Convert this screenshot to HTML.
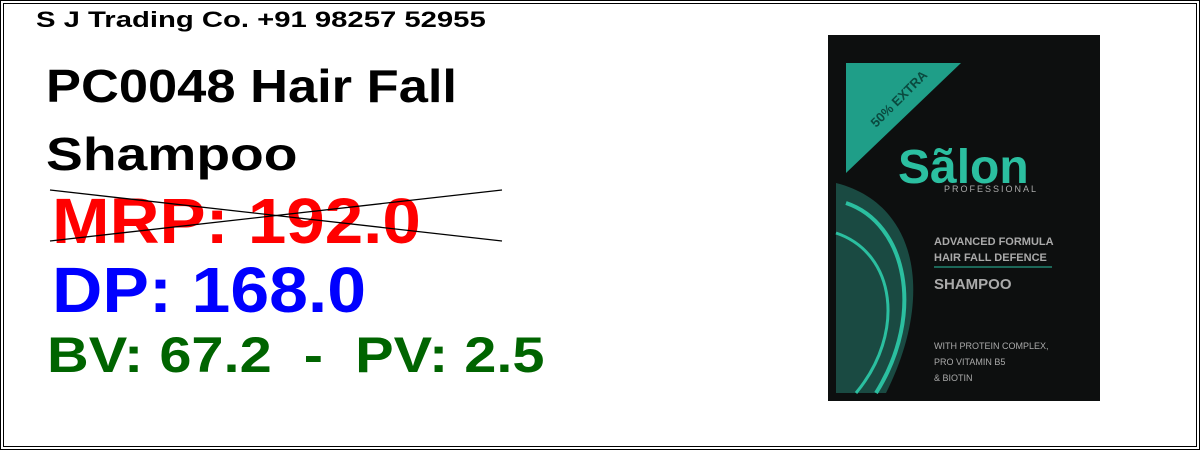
<!DOCTYPE html>
<html><head><meta charset="utf-8"><style>
body{margin:0;width:1200px;height:450px;background:#fff;position:relative;overflow:hidden;font-family:"Liberation Sans",sans-serif}
.t{position:absolute;white-space:nowrap;font-weight:bold;line-height:1;transform-origin:0 0}
</style></head><body>
<div style="position:absolute;left:0;top:0;width:1198px;height:448px;border:1px solid #000"></div>
<div style="position:absolute;left:3px;top:3px;width:1192px;height:442px;border:1px solid #000"></div>
<div class="t" style="left:36px;top:9px;font-size:22px;transform:scaleX(1.33)">S J Trading Co. +91 98257 52955</div>
<div class="t" style="left:46px;top:63px;font-size:46px;transform:scaleX(1.14)">PC0048 Hair Fall</div>
<div class="t" style="left:46px;top:131px;font-size:46px;transform:scaleX(1.2)">Shampoo</div>
<div class="t" style="left:52px;top:189px;font-size:64px;color:#f00;transform:scaleX(1.08)">MRP: 192.0</div>
<svg style="position:absolute;left:0;top:0" width="1200" height="450"><line x1="50" y1="190" x2="502" y2="241" stroke="#000" stroke-width="1.3"/><line x1="50" y1="241" x2="502" y2="190" stroke="#000" stroke-width="1.3"/></svg>
<div class="t" style="left:52px;top:258px;font-size:64px;color:#00f;transform:scaleX(1.09)">DP: 168.0</div>
<div class="t" style="left:47px;top:330px;font-size:50px;color:#006400;transform:scaleX(1.155)">BV: 67.2&nbsp; -&nbsp; PV: 2.5</div>
<svg style="position:absolute;left:826px;top:33px" width="276" height="368">
<rect x="2" y="2" width="272" height="366" fill="#0d0f0f"/>
<polygon points="20,30 135,30 20,140" fill="#1f9e88"/>
<path d="M10,150 C90,170 110,260 60,360 L10,360Z" fill="#1a4a42"/>
<path d="M20,170 C80,190 100,280 50,360" stroke="#2bbfa0" stroke-width="4" fill="none"/>
<path d="M10,200 C70,220 80,300 30,360" stroke="#2bbfa0" stroke-width="3" fill="none"/>
<text x="72" y="150" font-size="48" font-weight="bold" fill="#2bbfa0" font-family="Liberation Sans">Sãlon</text>
<text x="118" y="159" font-size="9" fill="#aaa" letter-spacing="2" font-family="Liberation Sans">PROFESSIONAL</text>
<text x="108" y="212" font-size="11" font-weight="bold" fill="#aaa" font-family="Liberation Sans">ADVANCED FORMULA</text>
<text x="108" y="228" font-size="11" font-weight="bold" fill="#aaa" font-family="Liberation Sans">HAIR FALL DEFENCE</text>
<line x1="108" y1="234" x2="226" y2="234" stroke="#2bbfa0"/>
<text x="108" y="256" font-size="15" font-weight="bold" fill="#aaa" font-family="Liberation Sans">SHAMPOO</text>
<text x="108" y="316" font-size="9" fill="#aaa" font-family="Liberation Sans">WITH PROTEIN COMPLEX,</text>
<text x="108" y="332" font-size="9" fill="#aaa" font-family="Liberation Sans">PRO VITAMIN B5</text>
<text x="108" y="348" font-size="9" fill="#aaa" font-family="Liberation Sans">&amp; BIOTIN</text>
<text x="50" y="95" font-size="13" font-weight="bold" fill="#0a4a3f" transform="rotate(-45 50 95)" font-family="Liberation Sans">50% EXTRA</text>
</svg>
</body></html>
